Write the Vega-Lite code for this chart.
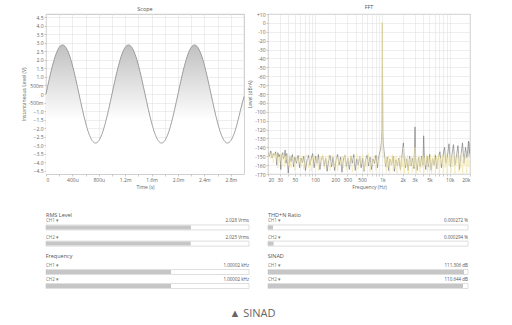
{
  "$schema": "https://vega.github.io/schema/vega-lite/v6.json",
  "padding": {"left": 20, "top": 4, "right": 0, "bottom": 0},
  "background": "white",
  "config": {
    "font": "Open Sans",
    "view": {"stroke": null},
    "axis": {"labelFont": "Open Sans", "labelFontSize": 5, "labelColor": "#666", "titleFont": "Open Sans", "titleFontSize": 5, "titleColor": "#666", "titleFontWeight": "normal", "gridColor": "#e2e2e2", "gridWidth": 0.6, "tickColor": "#aaa", "tickSize": 2, "tickWidth": 0.6, "domain": false, "labelPadding": 1, "titlePadding": 2, "labelOverlap": false},
    "title": {"font": "Open Sans", "fontSize": 5.5, "fontWeight": "normal", "color": "#555", "offset": 2}
  },
  "datasets": {
    "scope": [
      {"t":0,"v":0},{"t":0.05,"v":0.887},{"t":0.1,"v":1.687},{"t":0.15,"v":2.322},{"t":0.2,"v":2.729},{"t":0.25,"v":2.87},{"t":0.3,"v":2.729},{"t":0.35,"v":2.322},{"t":0.4,"v":1.687},{"t":0.45,"v":0.887},
      {"t":0.5,"v":0},{"t":0.55,"v":-0.887},{"t":0.6,"v":-1.687},{"t":0.65,"v":-2.322},{"t":0.7,"v":-2.729},{"t":0.75,"v":-2.87},{"t":0.8,"v":-2.729},{"t":0.85,"v":-2.322},{"t":0.9,"v":-1.687},{"t":0.95,"v":-0.887},
      {"t":1.0,"v":0},{"t":1.05,"v":0.887},{"t":1.1,"v":1.687},{"t":1.15,"v":2.322},{"t":1.2,"v":2.729},{"t":1.25,"v":2.87},{"t":1.3,"v":2.729},{"t":1.35,"v":2.322},{"t":1.4,"v":1.687},{"t":1.45,"v":0.887},
      {"t":1.5,"v":0},{"t":1.55,"v":-0.887},{"t":1.6,"v":-1.687},{"t":1.65,"v":-2.322},{"t":1.7,"v":-2.729},{"t":1.75,"v":-2.87},{"t":1.8,"v":-2.729},{"t":1.85,"v":-2.322},{"t":1.9,"v":-1.687},{"t":1.95,"v":-0.887},
      {"t":2.0,"v":0},{"t":2.05,"v":0.887},{"t":2.1,"v":1.687},{"t":2.15,"v":2.322},{"t":2.2,"v":2.729},{"t":2.25,"v":2.87},{"t":2.3,"v":2.729},{"t":2.35,"v":2.322},{"t":2.4,"v":1.687},{"t":2.45,"v":0.887},
      {"t":2.5,"v":0},{"t":2.55,"v":-0.887},{"t":2.6,"v":-1.687},{"t":2.65,"v":-2.322},{"t":2.7,"v":-2.729},{"t":2.75,"v":-2.87},{"t":2.8,"v":-2.729},{"t":2.85,"v":-2.322},{"t":2.9,"v":-1.687},{"t":2.95,"v":-0.887},
      {"t":3.0,"v":-0.15}
    ],
    "fft": [
      {"ch":"CH1","f":20,"db":-146},{"ch":"CH1","f":21,"db":-150},{"ch":"CH1","f":22,"db":-144},{"ch":"CH1","f":23,"db":-152},{"ch":"CH1","f":24,"db":-147},{"ch":"CH1","f":25,"db":-149},{"ch":"CH1","f":26,"db":-145},{"ch":"CH1","f":27,"db":-160},{"ch":"CH1","f":28,"db":-146},{"ch":"CH1","f":29,"db":-151},
      {"ch":"CH1","f":30,"db":-148},{"ch":"CH1","f":31,"db":-165},{"ch":"CH1","f":32,"db":-149},{"ch":"CH1","f":33,"db":-146},{"ch":"CH1","f":34,"db":-153},{"ch":"CH1","f":35,"db":-150},{"ch":"CH1","f":36,"db":-143},{"ch":"CH1","f":37,"db":-158},{"ch":"CH1","f":38,"db":-147},{"ch":"CH1","f":40,"db":-169},
      {"ch":"CH1","f":42,"db":-150},{"ch":"CH1","f":44,"db":-156},{"ch":"CH1","f":46,"db":-148},{"ch":"CH1","f":48,"db":-162},{"ch":"CH1","f":50,"db":-151},{"ch":"CH1","f":53,"db":-158},{"ch":"CH1","f":56,"db":-149},{"ch":"CH1","f":59,"db":-163},{"ch":"CH1","f":62,"db":-152},{"ch":"CH1","f":65,"db":-157},
      {"ch":"CH1","f":68,"db":-150},{"ch":"CH1","f":72,"db":-166},{"ch":"CH1","f":76,"db":-154},{"ch":"CH1","f":80,"db":-149},{"ch":"CH1","f":84,"db":-160},{"ch":"CH1","f":88,"db":-152},{"ch":"CH1","f":92,"db":-147},{"ch":"CH1","f":97,"db":-163},{"ch":"CH1","f":102,"db":-150},{"ch":"CH1","f":107,"db":-158},
      {"ch":"CH1","f":112,"db":-148},{"ch":"CH1","f":118,"db":-165},{"ch":"CH1","f":124,"db":-153},{"ch":"CH1","f":130,"db":-150},{"ch":"CH1","f":137,"db":-161},{"ch":"CH1","f":144,"db":-152},{"ch":"CH1","f":151,"db":-167},{"ch":"CH1","f":159,"db":-155},{"ch":"CH1","f":167,"db":-149},{"ch":"CH1","f":176,"db":-162},
      {"ch":"CH1","f":185,"db":-151},{"ch":"CH1","f":195,"db":-166},{"ch":"CH1","f":205,"db":-154},{"ch":"CH1","f":216,"db":-148},{"ch":"CH1","f":227,"db":-160},{"ch":"CH1","f":239,"db":-151},{"ch":"CH1","f":251,"db":-168},{"ch":"CH1","f":264,"db":-153},{"ch":"CH1","f":278,"db":-149},{"ch":"CH1","f":292,"db":-162},
      {"ch":"CH1","f":307,"db":-152},{"ch":"CH1","f":323,"db":-165},{"ch":"CH1","f":340,"db":-150},{"ch":"CH1","f":357,"db":-158},{"ch":"CH1","f":376,"db":-148},{"ch":"CH1","f":395,"db":-166},{"ch":"CH1","f":416,"db":-153},{"ch":"CH1","f":437,"db":-160},{"ch":"CH1","f":460,"db":-150},{"ch":"CH1","f":484,"db":-163},
      {"ch":"CH1","f":509,"db":-152},{"ch":"CH1","f":535,"db":-167},{"ch":"CH1","f":563,"db":-154},{"ch":"CH1","f":592,"db":-149},{"ch":"CH1","f":623,"db":-161},{"ch":"CH1","f":655,"db":-151},{"ch":"CH1","f":689,"db":-165},{"ch":"CH1","f":725,"db":-153},{"ch":"CH1","f":762,"db":-158},{"ch":"CH1","f":802,"db":-149},
      {"ch":"CH1","f":843,"db":-163},{"ch":"CH1","f":887,"db":-150},{"ch":"CH1","f":920,"db":-145},{"ch":"CH1","f":950,"db":-140},{"ch":"CH1","f":970,"db":-132},{"ch":"CH1","f":985,"db":-120},{"ch":"CH1","f":995,"db":-60},{"ch":"CH1","f":1000,"db":0},{"ch":"CH1","f":1005,"db":-60},{"ch":"CH1","f":1015,"db":-122},
      {"ch":"CH1","f":1030,"db":-135},{"ch":"CH1","f":1050,"db":-142},{"ch":"CH1","f":1080,"db":-150},{"ch":"CH1","f":1120,"db":-162},{"ch":"CH1","f":1180,"db":-151},{"ch":"CH1","f":1240,"db":-166},{"ch":"CH1","f":1300,"db":-153},{"ch":"CH1","f":1370,"db":-160},{"ch":"CH1","f":1440,"db":-150},{"ch":"CH1","f":1510,"db":-167},
      {"ch":"CH1","f":1590,"db":-154},{"ch":"CH1","f":1670,"db":-161},{"ch":"CH1","f":1760,"db":-152},{"ch":"CH1","f":1850,"db":-165},{"ch":"CH1","f":1950,"db":-150},{"ch":"CH1","f":2050,"db":-135},{"ch":"CH1","f":2100,"db":-151},{"ch":"CH1","f":2200,"db":-163},{"ch":"CH1","f":2300,"db":-153},{"ch":"CH1","f":2420,"db":-166},
      {"ch":"CH1","f":2540,"db":-150},{"ch":"CH1","f":2670,"db":-161},{"ch":"CH1","f":2800,"db":-152},{"ch":"CH1","f":2950,"db":-164},{"ch":"CH1","f":3050,"db":-117},{"ch":"CH1","f":3120,"db":-153},{"ch":"CH1","f":3280,"db":-166},{"ch":"CH1","f":3450,"db":-151},{"ch":"CH1","f":3630,"db":-162},{"ch":"CH1","f":3820,"db":-150},
      {"ch":"CH1","f":4000,"db":-160},{"ch":"CH1","f":4100,"db":-127},{"ch":"CH1","f":4200,"db":-152},{"ch":"CH1","f":4400,"db":-165},{"ch":"CH1","f":4600,"db":-150},{"ch":"CH1","f":4800,"db":-162},{"ch":"CH1","f":5050,"db":-148},{"ch":"CH1","f":5300,"db":-166},{"ch":"CH1","f":5560,"db":-152},{"ch":"CH1","f":5850,"db":-160},
      {"ch":"CH1","f":6140,"db":-149},{"ch":"CH1","f":6460,"db":-164},{"ch":"CH1","f":6800,"db":-151},{"ch":"CH1","f":7160,"db":-145},{"ch":"CH1","f":7540,"db":-163},{"ch":"CH1","f":7940,"db":-150},{"ch":"CH1","f":8360,"db":-140},{"ch":"CH1","f":8800,"db":-158},{"ch":"CH1","f":9260,"db":-150},{"ch":"CH1","f":9750,"db":-136},
      {"ch":"CH1","f":10260,"db":-162},{"ch":"CH1","f":10800,"db":-148},{"ch":"CH1","f":11370,"db":-137},{"ch":"CH1","f":11970,"db":-160},{"ch":"CH1","f":12600,"db":-150},{"ch":"CH1","f":13260,"db":-138},{"ch":"CH1","f":13960,"db":-165},{"ch":"CH1","f":14700,"db":-149},{"ch":"CH1","f":15470,"db":-135},{"ch":"CH1","f":16290,"db":-158},
      {"ch":"CH1","f":17150,"db":-140},{"ch":"CH1","f":18050,"db":-152},{"ch":"CH1","f":19000,"db":-133},{"ch":"CH1","f":19500,"db":-150},{"ch":"CH1","f":20000,"db":-134},
      {"ch":"CH2","f":20,"db":-150},{"ch":"CH2","f":21,"db":-145},{"ch":"CH2","f":22,"db":-153},{"ch":"CH2","f":23,"db":-147},{"ch":"CH2","f":24,"db":-158},{"ch":"CH2","f":25,"db":-146},{"ch":"CH2","f":26,"db":-152},{"ch":"CH2","f":27,"db":-148},{"ch":"CH2","f":28,"db":-163},{"ch":"CH2","f":29,"db":-150},
      {"ch":"CH2","f":30,"db":-155},{"ch":"CH2","f":31,"db":-147},{"ch":"CH2","f":32,"db":-160},{"ch":"CH2","f":33,"db":-151},{"ch":"CH2","f":34,"db":-146},{"ch":"CH2","f":35,"db":-162},{"ch":"CH2","f":36,"db":-150},{"ch":"CH2","f":37,"db":-154},{"ch":"CH2","f":38,"db":-149},{"ch":"CH2","f":40,"db":-161},
      {"ch":"CH2","f":42,"db":-148},{"ch":"CH2","f":44,"db":-163},{"ch":"CH2","f":46,"db":-152},{"ch":"CH2","f":48,"db":-150},{"ch":"CH2","f":50,"db":-166},{"ch":"CH2","f":53,"db":-151},{"ch":"CH2","f":56,"db":-158},{"ch":"CH2","f":59,"db":-149},{"ch":"CH2","f":62,"db":-162},{"ch":"CH2","f":65,"db":-150},
      {"ch":"CH2","f":68,"db":-165},{"ch":"CH2","f":72,"db":-152},{"ch":"CH2","f":76,"db":-148},{"ch":"CH2","f":80,"db":-163},{"ch":"CH2","f":84,"db":-151},{"ch":"CH2","f":88,"db":-167},{"ch":"CH2","f":92,"db":-153},{"ch":"CH2","f":97,"db":-149},{"ch":"CH2","f":102,"db":-161},{"ch":"CH2","f":107,"db":-151},
      {"ch":"CH2","f":112,"db":-166},{"ch":"CH2","f":118,"db":-150},{"ch":"CH2","f":124,"db":-158},{"ch":"CH2","f":130,"db":-148},{"ch":"CH2","f":137,"db":-164},{"ch":"CH2","f":144,"db":-150},{"ch":"CH2","f":151,"db":-160},{"ch":"CH2","f":159,"db":-149},{"ch":"CH2","f":167,"db":-166},{"ch":"CH2","f":176,"db":-152},
      {"ch":"CH2","f":185,"db":-148},{"ch":"CH2","f":195,"db":-162},{"ch":"CH2","f":205,"db":-151},{"ch":"CH2","f":216,"db":-167},{"ch":"CH2","f":227,"db":-152},{"ch":"CH2","f":239,"db":-158},{"ch":"CH2","f":251,"db":-150},{"ch":"CH2","f":264,"db":-163},{"ch":"CH2","f":278,"db":-148},{"ch":"CH2","f":292,"db":-166},
      {"ch":"CH2","f":307,"db":-151},{"ch":"CH2","f":323,"db":-160},{"ch":"CH2","f":340,"db":-149},{"ch":"CH2","f":357,"db":-168},{"ch":"CH2","f":376,"db":-152},{"ch":"CH2","f":395,"db":-157},{"ch":"CH2","f":416,"db":-147},{"ch":"CH2","f":437,"db":-165},{"ch":"CH2","f":460,"db":-150},{"ch":"CH2","f":484,"db":-159},
      {"ch":"CH2","f":509,"db":-148},{"ch":"CH2","f":535,"db":-166},{"ch":"CH2","f":563,"db":-151},{"ch":"CH2","f":592,"db":-162},{"ch":"CH2","f":623,"db":-147},{"ch":"CH2","f":655,"db":-168},{"ch":"CH2","f":689,"db":-152},{"ch":"CH2","f":725,"db":-160},{"ch":"CH2","f":762,"db":-149},{"ch":"CH2","f":802,"db":-166},
      {"ch":"CH2","f":843,"db":-151},{"ch":"CH2","f":887,"db":-158},{"ch":"CH2","f":920,"db":-148},{"ch":"CH2","f":950,"db":-145},{"ch":"CH2","f":970,"db":-140},{"ch":"CH2","f":985,"db":-125},{"ch":"CH2","f":995,"db":-50},{"ch":"CH2","f":1000,"db":1},{"ch":"CH2","f":1005,"db":-50},{"ch":"CH2","f":1015,"db":-128},
      {"ch":"CH2","f":1030,"db":-142},{"ch":"CH2","f":1050,"db":-150},{"ch":"CH2","f":1080,"db":-158},{"ch":"CH2","f":1110,"db":-150},{"ch":"CH2","f":1140,"db":-168},{"ch":"CH2","f":1170,"db":-152},{"ch":"CH2","f":1200,"db":-163},{"ch":"CH2","f":1240,"db":-149},{"ch":"CH2","f":1280,"db":-169},{"ch":"CH2","f":1320,"db":-153},
      {"ch":"CH2","f":1360,"db":-160},{"ch":"CH2","f":1400,"db":-148},{"ch":"CH2","f":1450,"db":-167},{"ch":"CH2","f":1500,"db":-151},{"ch":"CH2","f":1550,"db":-164},{"ch":"CH2","f":1600,"db":-150},{"ch":"CH2","f":1650,"db":-169},{"ch":"CH2","f":1700,"db":-153},{"ch":"CH2","f":1760,"db":-158},{"ch":"CH2","f":1820,"db":-149},
      {"ch":"CH2","f":1880,"db":-168},{"ch":"CH2","f":1940,"db":-152},{"ch":"CH2","f":2000,"db":-162},{"ch":"CH2","f":2060,"db":-140},{"ch":"CH2","f":2130,"db":-169},{"ch":"CH2","f":2200,"db":-151},{"ch":"CH2","f":2270,"db":-162},{"ch":"CH2","f":2350,"db":-149},{"ch":"CH2","f":2430,"db":-170},{"ch":"CH2","f":2510,"db":-153},
      {"ch":"CH2","f":2590,"db":-160},{"ch":"CH2","f":2680,"db":-150},{"ch":"CH2","f":2770,"db":-168},{"ch":"CH2","f":2860,"db":-152},{"ch":"CH2","f":2960,"db":-162},{"ch":"CH2","f":3050,"db":-140},{"ch":"CH2","f":3110,"db":-150},{"ch":"CH2","f":3200,"db":-169},{"ch":"CH2","f":3300,"db":-153},{"ch":"CH2","f":3400,"db":-161},
      {"ch":"CH2","f":3500,"db":-149},{"ch":"CH2","f":3610,"db":-168},{"ch":"CH2","f":3730,"db":-151},{"ch":"CH2","f":3860,"db":-163},{"ch":"CH2","f":3990,"db":-150},{"ch":"CH2","f":4120,"db":-170},{"ch":"CH2","f":4260,"db":-152},{"ch":"CH2","f":4400,"db":-160},{"ch":"CH2","f":4550,"db":-148},{"ch":"CH2","f":4700,"db":-168},
      {"ch":"CH2","f":4860,"db":-151},{"ch":"CH2","f":5030,"db":-164},{"ch":"CH2","f":5200,"db":-149},{"ch":"CH2","f":5370,"db":-170},{"ch":"CH2","f":5550,"db":-152},{"ch":"CH2","f":5740,"db":-161},{"ch":"CH2","f":5940,"db":-148},{"ch":"CH2","f":6140,"db":-169},{"ch":"CH2","f":6350,"db":-150},{"ch":"CH2","f":6560,"db":-163},
      {"ch":"CH2","f":6780,"db":-149},{"ch":"CH2","f":7010,"db":-170},{"ch":"CH2","f":7250,"db":-152},{"ch":"CH2","f":7500,"db":-158},{"ch":"CH2","f":7750,"db":-148},{"ch":"CH2","f":8010,"db":-168},{"ch":"CH2","f":8280,"db":-150},{"ch":"CH2","f":8560,"db":-163},{"ch":"CH2","f":8850,"db":-147},{"ch":"CH2","f":9150,"db":-170},
      {"ch":"CH2","f":9460,"db":-151},{"ch":"CH2","f":9780,"db":-160},{"ch":"CH2","f":10110,"db":-148},{"ch":"CH2","f":10450,"db":-169},{"ch":"CH2","f":10810,"db":-150},{"ch":"CH2","f":11170,"db":-162},{"ch":"CH2","f":11550,"db":-147},{"ch":"CH2","f":11940,"db":-170},{"ch":"CH2","f":12350,"db":-151},{"ch":"CH2","f":12770,"db":-159},
      {"ch":"CH2","f":13200,"db":-147},{"ch":"CH2","f":13650,"db":-168},{"ch":"CH2","f":14110,"db":-150},{"ch":"CH2","f":14590,"db":-163},{"ch":"CH2","f":15080,"db":-146},{"ch":"CH2","f":15590,"db":-170},{"ch":"CH2","f":16120,"db":-150},{"ch":"CH2","f":16670,"db":-160},{"ch":"CH2","f":17230,"db":-146},{"ch":"CH2","f":17820,"db":-169},
      {"ch":"CH2","f":18420,"db":-150},{"ch":"CH2","f":19040,"db":-162},{"ch":"CH2","f":19680,"db":-147},{"ch":"CH2","f":20000,"db":-152}
    ],
    "meters": [
      {"metric":"RMS Level","ch":"CH1","lab":"CH1 ▾","val":"2.028 Vrms","frac":0.714},
      {"metric":"RMS Level","ch":"CH2","lab":"CH2 ▾","val":"2.025 Vrms","frac":0.713},
      {"metric":"Frequency","ch":"CH1","lab":"CH1 ▾","val":"1.00002 kHz","frac":0.616},
      {"metric":"Frequency","ch":"CH2","lab":"CH2 ▾","val":"1.00002 kHz","frac":0.616},
      {"metric":"THD+N Ratio","ch":"CH1","lab":"CH1 ▾","val":"0.000272 %","frac":0.025},
      {"metric":"THD+N Ratio","ch":"CH2","lab":"CH2 ▾","val":"0.000294 %","frac":0.028},
      {"metric":"SINAD","ch":"CH1","lab":"CH1 ▾","val":"111.306 dB","frac":0.98},
      {"metric":"SINAD","ch":"CH2","lab":"CH2 ▾","val":"110.644 dB","frac":0.975}
    ],
    "caption": [{"label": "▲ SINAD"}]
  },
  "columns": 2,
  "align": "none",
  "bounds": "flush",
  "spacing": {"row": 13, "column": 19},
  "concat": [
    {
      "width": 198, "height": 160,
      "view": {"stroke": "#b5b5b5", "strokeWidth": 0.8},
      "title": {"text": "Scope"},
      "data": {"name": "scope"},
      "encoding": {
        "x": {"field": "t", "type": "quantitative", "title": "Time (s)", "scale": {"domain": [0, 3], "nice": false},
              "axis": {"values": [0,0.2,0.4,0.6,0.8,1.0,1.2,1.4,1.6,1.8,2.0,2.2,2.4,2.6,2.8], "labelExpr": "round(datum.value*10) % 4 != 0 ? '' : datum.value == 0 ? '0' : datum.value < 1 ? format(datum.value*1000,'d') + 'u' : format(datum.value,'.1f') + 'm'"}},
        "y": {"field": "v", "type": "quantitative", "title": "Instantaneous Level (V)", "scale": {"domain": [-4.68, 4.68], "nice": false, "zero": false},
              "axis": {"values": [-4.5,-4,-3.5,-3,-2.5,-2,-1.5,-1,-0.5,0,0.5,1,1.5,2,2.5,3,3.5,4,4.5], "labelExpr": "datum.value == 0 ? '0' : abs(datum.value) == 0.5 ? (datum.value < 0 ? '-500m' : '500m') : format(datum.value,'.1f')"}}
      },
      "layer": [
        {"mark": {"type": "area", "interpolate": "monotone", "color": {"gradient": "linear", "x1": 0, "y1": 0, "x2": 0, "y2": 1, "stops": [{"offset": 0, "color": "#c0c0c0"}, {"offset": 0.58, "color": "#ffffff"}, {"offset": 1, "color": "#ffffff"}]}},
         "encoding": {"y2": {"datum": -4.68}}},
        {"mark": {"type": "line", "interpolate": "monotone", "color": "#8a8a8a", "strokeWidth": 0.8}}
      ]
    },
    {
      "width": 202, "height": 160,
      "view": {"stroke": "#b5b5b5", "strokeWidth": 0.8},
      "title": {"text": "FFT"},
      "data": {"name": "fft"},
      "mark": {"type": "line", "strokeWidth": 0.6, "clip": true},
      "encoding": {
        "x": {"field": "f", "type": "quantitative", "title": "Frequency (Hz)", "scale": {"type": "log", "domain": [20, 20000], "nice": false},
              "axis": {"values": [20,30,40,50,60,70,80,90,100,200,300,400,500,600,700,800,900,1000,2000,3000,4000,5000,6000,7000,8000,9000,10000,20000], "labelExpr": "indexof([20,30,50,100,200,300,500,1000,2000,3000,5000,10000,20000], datum.value) < 0 ? '' : datum.value >= 1000 ? (datum.value/1000) + 'k' : '' + datum.value"}},
        "y": {"field": "db", "type": "quantitative", "title": "Level (dBrA)", "scale": {"domain": [-170, 10], "nice": false},
              "axis": {"values": [-170,-160,-150,-140,-130,-120,-110,-100,-90,-80,-70,-60,-50,-40,-30,-20,-10,0,10], "labelExpr": "datum.value > 0 ? '+' + datum.value : '' + datum.value"}},
        "color": {"field": "ch", "type": "nominal", "scale": {"domain": ["CH1", "CH2"], "range": ["#707070", "#f2e6a8"]}, "legend": null}
      }
    },
    {
      "width": 203, "height": 64.7,
      "title": {"text": "RMS Level", "anchor": "start", "frame": "group", "offset": -31},
      "data": {"name": "meters"},
      "transform": [{"filter": "datum.metric == 'RMS Level'"}],
      "encoding": {"y": {"field": "ch", "type": "nominal", "axis": null, "scale": {"paddingInner": 0, "paddingOuter": 1.311, "align": 1}}},
      "layer": [
        {"mark": {"type": "bar", "height": 5, "fill": "#ffffff", "stroke": "#c9c9c9", "strokeWidth": 0.6}, "encoding": {"x": {"datum": 0, "type": "quantitative", "scale": {"domain": [0, 1]}, "axis": null}, "x2": {"datum": 1}}},
        {"mark": {"type": "bar", "height": 4, "fill": "#c6c6c6"}, "encoding": {"x": {"field": "frac", "type": "quantitative", "scale": {"domain": [0, 1]}, "axis": null}}},
        {"mark": {"type": "text", "align": "left", "dy": -6, "fontSize": 4.5, "color": "#777"}, "encoding": {"x": {"datum": 0, "type": "quantitative", "scale": {"domain": [0, 1]}, "axis": null}, "text": {"field": "lab"}}},
        {"mark": {"type": "text", "align": "right", "dy": -6, "fontSize": 4.5, "color": "#555"}, "encoding": {"x": {"datum": 1, "type": "quantitative", "scale": {"domain": [0, 1]}, "axis": null}, "text": {"field": "val"}}}
      ]
    },
    {
      "width": 200, "height": 64.7,
      "title": {"text": "THD+N Ratio", "anchor": "start", "frame": "group", "offset": -31},
      "data": {"name": "meters"},
      "transform": [{"filter": "datum.metric == 'THD+N Ratio'"}],
      "encoding": {"y": {"field": "ch", "type": "nominal", "axis": null, "scale": {"paddingInner": 0, "paddingOuter": 1.311, "align": 1}}},
      "layer": [
        {"mark": {"type": "bar", "height": 5, "fill": "#ffffff", "stroke": "#c9c9c9", "strokeWidth": 0.6}, "encoding": {"x": {"datum": 0, "type": "quantitative", "scale": {"domain": [0, 1]}, "axis": null}, "x2": {"datum": 1}}},
        {"mark": {"type": "bar", "height": 4, "fill": "#c6c6c6"}, "encoding": {"x": {"field": "frac", "type": "quantitative", "scale": {"domain": [0, 1]}, "axis": null}}},
        {"mark": {"type": "text", "align": "left", "dy": -6, "fontSize": 4.5, "color": "#777"}, "encoding": {"x": {"datum": 0, "type": "quantitative", "scale": {"domain": [0, 1]}, "axis": null}, "text": {"field": "lab"}}},
        {"mark": {"type": "text", "align": "right", "dy": -6, "fontSize": 4.5, "color": "#555"}, "encoding": {"x": {"datum": 1, "type": "quantitative", "scale": {"domain": [0, 1]}, "axis": null}, "text": {"field": "val"}}}
      ]
    },
    {
      "width": 203, "height": 28,
      "title": {"text": "Frequency", "anchor": "start", "offset": 4},
      "data": {"name": "meters"},
      "transform": [{"filter": "datum.metric == 'Frequency'"}],
      "encoding": {"y": {"field": "ch", "type": "nominal", "axis": null, "scale": {"paddingInner": 0, "paddingOuter": 0}}},
      "layer": [
        {"mark": {"type": "bar", "height": 5, "fill": "#ffffff", "stroke": "#c9c9c9", "strokeWidth": 0.6}, "encoding": {"x": {"datum": 0, "type": "quantitative", "scale": {"domain": [0, 1]}, "axis": null}, "x2": {"datum": 1}}},
        {"mark": {"type": "bar", "height": 4, "fill": "#c6c6c6"}, "encoding": {"x": {"field": "frac", "type": "quantitative", "scale": {"domain": [0, 1]}, "axis": null}}},
        {"mark": {"type": "text", "align": "left", "dy": -6, "fontSize": 4.5, "color": "#777"}, "encoding": {"x": {"datum": 0, "type": "quantitative", "scale": {"domain": [0, 1]}, "axis": null}, "text": {"field": "lab"}}},
        {"mark": {"type": "text", "align": "right", "dy": -6, "fontSize": 4.5, "color": "#555"}, "encoding": {"x": {"datum": 1, "type": "quantitative", "scale": {"domain": [0, 1]}, "axis": null}, "text": {"field": "val"}}}
      ]
    },
    {
      "width": 200, "height": 28,
      "title": {"text": "SINAD", "anchor": "start", "offset": 4},
      "data": {"name": "meters"},
      "transform": [{"filter": "datum.metric == 'SINAD'"}],
      "encoding": {"y": {"field": "ch", "type": "nominal", "axis": null, "scale": {"paddingInner": 0, "paddingOuter": 0}}},
      "layer": [
        {"mark": {"type": "bar", "height": 5, "fill": "#ffffff", "stroke": "#c9c9c9", "strokeWidth": 0.6}, "encoding": {"x": {"datum": 0, "type": "quantitative", "scale": {"domain": [0, 1]}, "axis": null}, "x2": {"datum": 1}}},
        {"mark": {"type": "bar", "height": 4, "fill": "#c6c6c6"}, "encoding": {"x": {"field": "frac", "type": "quantitative", "scale": {"domain": [0, 1]}, "axis": null}}},
        {"mark": {"type": "text", "align": "left", "dy": -6, "fontSize": 4.5, "color": "#777"}, "encoding": {"x": {"datum": 0, "type": "quantitative", "scale": {"domain": [0, 1]}, "axis": null}, "text": {"field": "lab"}}},
        {"mark": {"type": "text", "align": "right", "dy": -6, "fontSize": 4.5, "color": "#555"}, "encoding": {"x": {"datum": 1, "type": "quantitative", "scale": {"domain": [0, 1]}, "axis": null}, "text": {"field": "val"}}}
      ]
    },
    {
      "width": 203, "height": 16,
      "data": {"name": "caption"},
      "mark": {"type": "text", "fontSize": 11, "color": "#666", "font": "Open Sans", "dx": 105},
      "encoding": {"text": {"field": "label"}}
    }
  ]
}
